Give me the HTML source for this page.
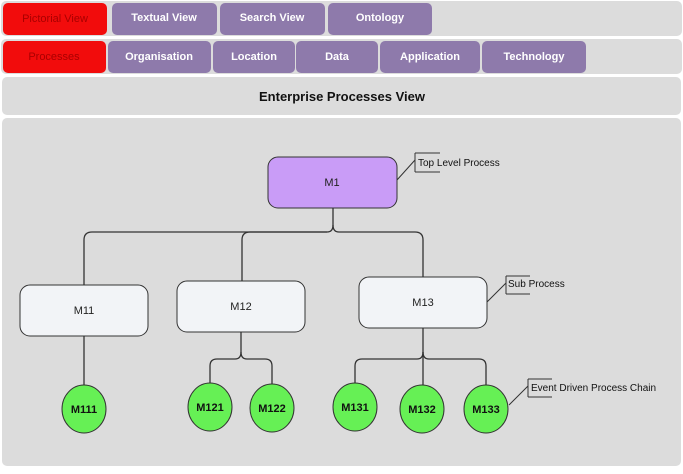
<!DOCTYPE html>
<html><head><style>
body{margin:0;width:683px;height:469px;background:#fff;font-family:"Liberation Sans",sans-serif;overflow:hidden}
</style></head><body>
<svg width="683" height="469" xmlns="http://www.w3.org/2000/svg" font-family="Liberation Sans, sans-serif">
<rect x="1" y="1" width="681" height="35" rx="5" fill="#dcdcdc"/>
<rect x="1" y="39" width="681" height="35" rx="5" fill="#dcdcdc"/>
<rect x="2" y="77" width="679" height="38" rx="5" fill="#dcdcdc"/>
<rect x="2" y="118" width="679" height="348" rx="5" fill="#dcdcdc"/>
<g font-size="11" text-anchor="middle" fill="#fff" font-weight="bold">
<rect x="3" y="3" width="104" height="32" rx="5" fill="#f20c0c"/><text x="55" y="22" fill="#a00" font-weight="normal">Pictorial View</text>
<rect x="112" y="3" width="105" height="32" rx="5" fill="#8e7aab"/><text x="164" y="21">Textual View</text>
<rect x="220" y="3" width="105" height="32" rx="5" fill="#8e7aab"/><text x="272" y="21">Search View</text>
<rect x="328" y="3" width="104" height="32" rx="5" fill="#8e7aab"/><text x="380" y="21">Ontology</text>
<rect x="3" y="41" width="103" height="32" rx="5" fill="#f20c0c"/><text x="54" y="60" fill="#a00" font-weight="normal">Processes</text>
<rect x="108" y="41" width="103" height="32" rx="5" fill="#8e7aab"/><text x="159" y="60">Organisation</text>
<rect x="213" y="41" width="82" height="32" rx="5" fill="#8e7aab"/><text x="254" y="60">Location</text>
<rect x="296" y="41" width="82" height="32" rx="5" fill="#8e7aab"/><text x="337" y="60">Data</text>
<rect x="380" y="41" width="100" height="32" rx="5" fill="#8e7aab"/><text x="430" y="60">Application</text>
<rect x="482" y="41" width="104" height="32" rx="5" fill="#8e7aab"/><text x="534" y="60">Technology</text>
</g>
<text x="342" y="101" font-size="13" font-weight="bold" text-anchor="middle" fill="#111">Enterprise Processes View</text>
<g fill="none" stroke="#333" stroke-width="1.3">
<path d="M333 208V225q0 7-6 7H92q-8 0-8 8V290"/>
<path d="M333 225q0 7 6 7H415q8 0 8 8V280"/>
<path d="M327 232H250q-8 0-8 8V283"/>
<path d="M241 332V352q0 7-6 7H217q-7 0-7 7V386"/>
<path d="M241 352q0 7 6 7H265q7 0 7 7V386"/>
<path d="M423 328V352q0 7-6 7H362q-7 0-7 7V386"/>
<path d="M423 352q0 7 6 7H479q7 0 7 7V386"/>
<path d="M423 352V386"/>
<path d="M84 336V386"/>
<path d="M397 180L415 160M415 153V172M415 153H440M415 172H440" stroke-width="1"/>
<path d="M487 302L506 283M506 276V294M506 276H530M506 294H530" stroke-width="1"/>
<path d="M509 405L528 386M528 379V397M528 379H552M528 397H552" stroke-width="1"/>
</g>
<rect x="268" y="157" width="129" height="51" rx="10" fill="#c99cf7" stroke="#333"/>
<rect x="20" y="285" width="128" height="51" rx="10" fill="#f2f4f7" stroke="#333"/>
<rect x="177" y="281" width="128" height="51" rx="10" fill="#f2f4f7" stroke="#333"/>
<rect x="359" y="277" width="128" height="51" rx="10" fill="#f2f4f7" stroke="#333"/>
<g font-size="11" text-anchor="middle" fill="#222">
<text x="332" y="186">M1</text><text x="84" y="314">M11</text><text x="241" y="310">M12</text><text x="423" y="306">M13</text>
</g>
<g fill="#66f055" stroke="#333">
<ellipse cx="84" cy="409" rx="22" ry="24"/><ellipse cx="210" cy="407" rx="22" ry="24"/><ellipse cx="272" cy="408" rx="22" ry="24"/>
<ellipse cx="355" cy="407" rx="22" ry="24"/><ellipse cx="422" cy="409" rx="22" ry="24"/><ellipse cx="486" cy="409" rx="22" ry="24"/>
</g>
<g font-size="11" font-weight="bold" text-anchor="middle" fill="#111">
<text x="84" y="413">M111</text><text x="210" y="411">M121</text><text x="272" y="412">M122</text>
<text x="355" y="411">M131</text><text x="422" y="413">M132</text><text x="486" y="413">M133</text>
</g>
<g font-size="10" fill="#111">
<text x="418" y="166">Top Level Process</text>
<text x="508" y="287">Sub Process</text>
<text x="531" y="391">Event Driven Process Chain</text>
</g>
</svg>
</body></html>
